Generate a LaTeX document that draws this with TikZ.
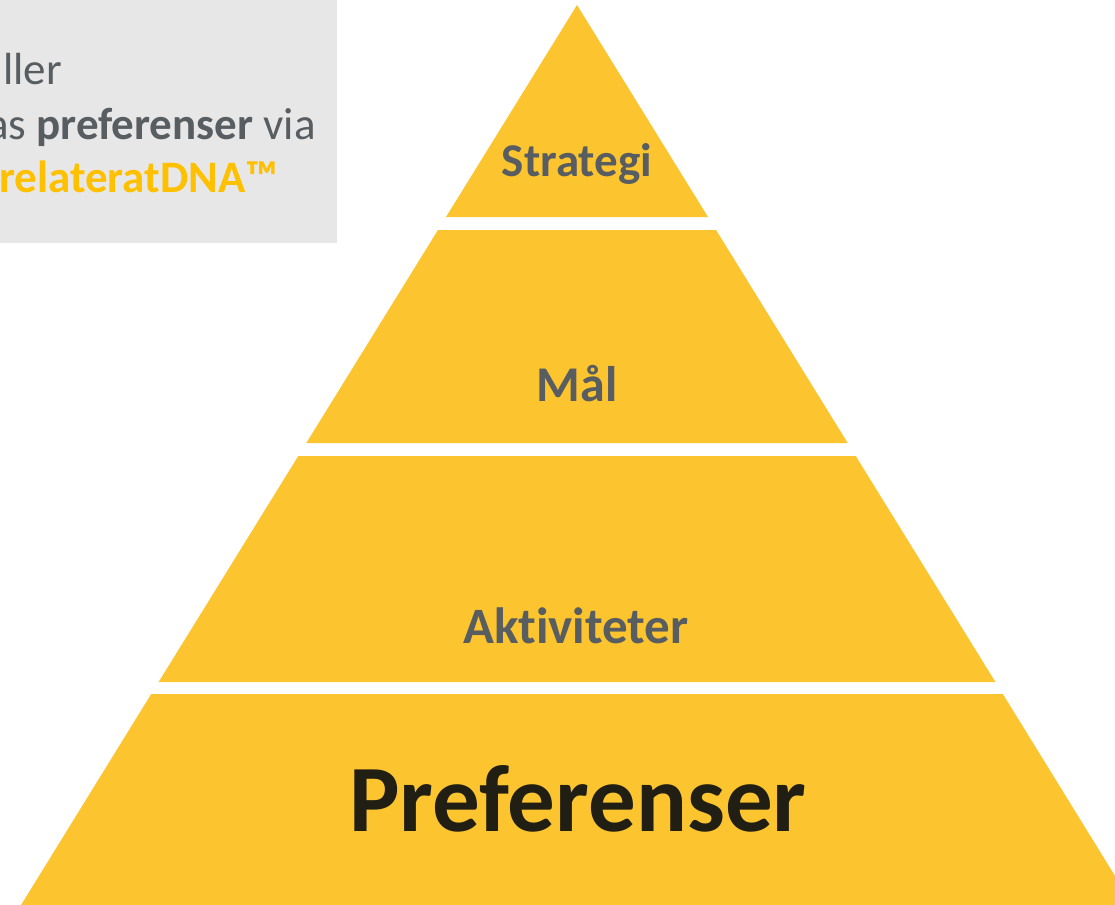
\documentclass[tikz,border=0pt]{standalone}
\usepackage{fontspec}
\setmainfont{Carlito}[Ligatures={NoCommon}]
\definecolor{pyr}{HTML}{FCC42F}
\definecolor{boxgray}{HTML}{E7E7E7}
\definecolor{txtgray}{HTML}{585D61}
\definecolor{txtorange}{HTML}{FFC000}
\definecolor{txtdark}{HTML}{211E14}
\begin{document}
\begin{tikzpicture}[x=1pt,y=-1pt,
  layer/.style={fill=pyr,draw=none},
  lbl/.style={anchor=base,inner sep=0pt,text=txtgray,font=\bfseries},
  boxtxt/.style={anchor=base east,inner sep=0pt,text=txtgray,font=\fontsize{45}{54}\selectfont}]
\useasboundingbox (0,0) rectangle (1115,904);
\clip (0,0) rectangle (1115,904);
% grey info box
\fill[boxgray] (-5,-5) rectangle (337,243);
\node[boxtxt] (t1) at (62,85) {aller};
\node[boxtxt] (t2) at (316,140) {as \textbf{preferenser} via};
\node[boxtxt,text=txtorange,font=\fontsize{45}{54}\selectfont\bfseries] (t3) at (278,193) {relateratDNA™};
% pyramid layers
\fill[layer] (577,5) -- (708,217) -- (446,217) -- cycle;
\fill[layer] (437.95,230) -- (716.05,230) -- (847.7,443) -- (306.3,443) -- cycle;
\fill[layer] (298.3,456) -- (855.7,456) -- (995.4,682) -- (158.6,682) -- cycle;
\fill[layer] (151.2,694) -- (1002.8,694) -- (1160.7,950) -- (-6.7,950) -- cycle;
% labels
\node[lbl,font=\fontsize{47}{56}\selectfont\bfseries] (strategi) at (577,177) {Strategi};
\node[lbl,font=\fontsize{50}{60}\selectfont\bfseries] (mal) at (577,401) {Mål};
\node[lbl,font=\fontsize{51}{61}\selectfont\bfseries] (akt) at (576,643) {Aktiviteter};
\node[lbl,text=txtdark,font=\fontsize{95}{112}\selectfont\bfseries] (pref) at (578,831) {Preferenser};
\end{tikzpicture}
\end{document}
